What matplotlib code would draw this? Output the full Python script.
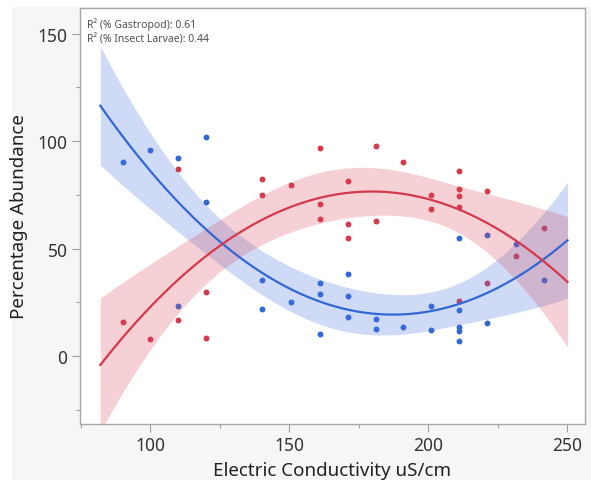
import numpy as np
import matplotlib
matplotlib.use("Agg")
import matplotlib.pyplot as plt
from matplotlib.patches import Rectangle
from matplotlib.ticker import MultipleLocator

plt.rcParams["font.family"] = ["Noto Sans", "DejaVu Sans"]

# ---- data ----
ec_gastropod = [90, 100, 110, 110, 120, 120, 140, 140, 150.5, 161, 161, 161,
                171, 171, 171, 181, 181, 191, 201, 201, 211, 211, 211, 211, 211,
                221, 221, 231.5, 241.7]
pct_gastropod = [90.1, 95.8, 92.1, 23.1, 101.9, 71.5, 35.2, 21.7, 25.2, 33.9, 28.8, 10.2,
                 38.2, 28.0, 18.0, 17.2, 12.7, 13.6, 23.2, 12.2, 55.1, 21.4, 13.6, 11.8, 7.0,
                 56.2, 15.6, 52.2, 35.6]
ec_larvae = [90, 100, 110, 110, 120, 120, 140, 140, 150.5, 161, 161, 161,
             171, 171, 171, 181, 181, 191, 201, 201, 211, 211, 211, 211, 211,
             221, 221, 231.5, 241.7]
pct_larvae = [15.8, 8.0, 87.2, 17.0, 29.6, 8.4, 82.4, 75.1, 79.4, 96.9, 70.6, 63.8,
              81.3, 61.6, 55.1, 97.7, 62.7, 90.1, 75.1, 68.4, 85.9, 77.7, 74.3, 69.2, 25.7,
              77.0, 33.8, 46.6, 59.5]
fit_range = [82, 250]
r2_labels = ["R\u00b2 (% Gastropod): 0.61", "R\u00b2 (% Insect Larvae): 0.44"]
x_ticks = [100, 150, 200, 250]
y_ticks = [0, 50, 100, 150]

DEG = 2
T95 = 2.056  # t quantile, df = 29 - 3


def poly_fit(x, y, xs):
    x = np.asarray(x, float)
    y = np.asarray(y, float)
    X = np.vander(x, DEG + 1)
    beta, *_ = np.linalg.lstsq(X, y, rcond=None)
    resid = y - X @ beta
    s2 = resid @ resid / (len(x) - DEG - 1)
    XtXi = np.linalg.inv(X.T @ X)
    Xs = np.vander(xs, DEG + 1)
    yhat = Xs @ beta
    se = np.sqrt(s2 * np.einsum("ij,jk,ik->i", Xs, XtXi, Xs))
    return yhat, yhat - T95 * se, yhat + T95 * se


BLUE = "#3467d6"
RED = "#d43a4c"
BLUE_BAND = "#4a78e0"
RED_BAND = "#d9475a"

fig = plt.figure(figsize=(5.91, 4.81), dpi=100, facecolor="white")
fig.patches.append(Rectangle((12 / 591, 0), 1, (481 - 8) / 481, transform=fig.transFigure,
                             facecolor="#f6f6f6", edgecolor="none", zorder=-10))
ax = fig.add_axes([80 / 591, (481 - 425) / 481, (585 - 80) / 591, (425 - 9) / 481])
ax.set_facecolor("white")

series = [(ec_gastropod, pct_gastropod, BLUE, BLUE_BAND, 0.27),
          (ec_larvae, pct_larvae, RED, RED_BAND, 0.25)]
xs = np.linspace(fit_range[0], fit_range[1], 300)
for ex, ey, col, band, a in series:
    ax.scatter(ex, ey, s=18, color=col, zorder=2, linewidths=0)
for ex, ey, col, band, a in series:
    yhat, lo, hi = poly_fit(ex, ey, xs)
    ax.fill_between(xs, lo, hi, color=band, alpha=a, linewidth=0, zorder=3)
for ex, ey, col, band, a in series:
    yhat, lo, hi = poly_fit(ex, ey, xs)
    ax.plot(xs, yhat, color=col, lw=1.6, zorder=4)

ax.set_xlim(74.7, 256.3)
ax.set_ylim(-31.6, 161.9)
ax.set_xticks(x_ticks)
ax.set_yticks(y_ticks)
ax.xaxis.set_minor_locator(MultipleLocator(25))
ax.yaxis.set_minor_locator(MultipleLocator(25))
ax.tick_params(which="major", length=6, width=0.8, color="#a0a0a0", labelsize=12.5,
               labelcolor="#333333", pad=3)
ax.tick_params(which="minor", length=3, width=0.8, color="#a0a0a0")
for s in ax.spines.values():
    s.set_color("#a8a8a8")
    s.set_linewidth(1.0)

ax.set_xlabel("Electric Conductivity uS/cm", fontsize=13.5, color="#222222", labelpad=5)
ax.set_ylabel("Percentage Abundance", fontsize=13.5, color="#222222", labelpad=7)

ax.text(0.014, 0.978, r2_labels[0], transform=ax.transAxes, fontsize=7.5, color="#505050",
        va="top", ha="left")
ax.text(0.014, 0.940, r2_labels[1], transform=ax.transAxes, fontsize=7.5, color="#505050",
        va="top", ha="left")

fig.savefig("out.png", dpi=100, facecolor=fig.get_facecolor())
